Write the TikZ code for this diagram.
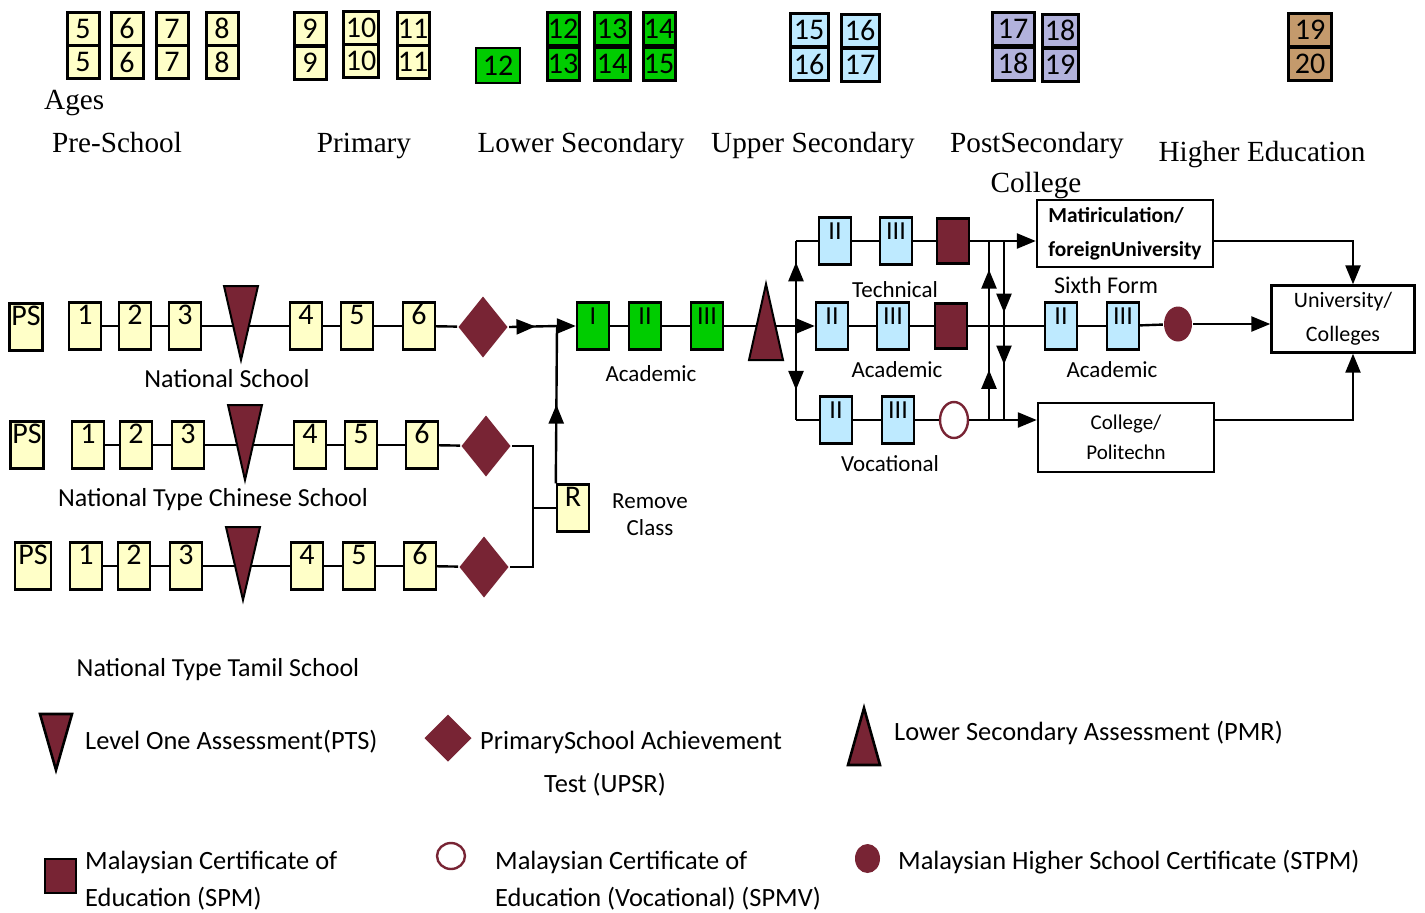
\documentclass[tikz,border=0pt]{standalone}
\usepackage{fontspec}
\setmainfont{Liberation Serif}
\setsansfont{Carlito}
\usetikzlibrary{arrows.meta,shapes.geometric,decorations.markings}

\definecolor{maroon}{RGB}{120,36,52}
\definecolor{ylw}{RGB}{255,255,200}
\definecolor{grn}{RGB}{0,204,0}
\definecolor{sky}{RGB}{190,234,255}
\definecolor{lilac}{RGB}{178,178,220}
\definecolor{brn}{RGB}{196,154,108}

\tikzset{
	bigtri/.tip={Triangle[length=9.5pt,width=7.5pt]},
	arr/.style={-bigtri},
	midarrow/.style={postaction={decorate},decoration={markings,mark=at position #1 with {\arrow{bigtri}}}},
	twoarrows/.style 2 args={postaction={decorate},decoration={markings,
		mark=at position #1 with {\arrow{bigtri}},mark=at position #2 with {\arrow{bigtri}}}},
	agebox/.style={draw, line width=1.5pt, minimum width=16pt, minimum height=16.5pt, inner sep=0pt,
		font=\sffamily\fontsize{15}{15}\selectfont},
	yearbox/.style={draw, line width=1.2pt, fill=ylw, minimum width=16pt, text height=10pt, text depth=11.5pt,
		inner sep=1pt, font=\sffamily\fontsize{15}{15}\selectfont},
	formbox/.style={yearbox, font=\sffamily\fontsize{13}{13}\selectfont},
	upsr/.style={diamond, fill=maroon, minimum width=25pt, minimum height=31pt, inner sep=0pt},
	spm/.style={draw=black, fill=maroon, line width=1.2pt, minimum width=16pt, minimum height=22.5pt, inner sep=0pt},
	spmv/.style={ellipse, draw=maroon, fill=white, line width=1.2pt, minimum width=14pt, minimum height=18pt, inner sep=0pt},
	stpm/.style={ellipse, fill=maroon, minimum width=14pt, minimum height=17.5pt, inner sep=0pt},
	assess/.style={fill=maroon, draw=black, line width=1pt},
	stage/.style={font=\fontsize{14.6}{16}\selectfont},
	lbl/.style={font=\sffamily\fontsize{11.5}{13.5}\selectfont},
	rowlbl/.style={font=\sffamily\fontsize{13}{15}\selectfont},
	lgtxt/.style={font=\sffamily\fontsize{13.2}{18.5}\selectfont, inner sep=0pt},
	endbox/.style={draw, line width=1.2pt, minimum width=88pt, minimum height=33.5pt}
}

\begin{document}
\begin{tikzpicture}[x=0.5pt,y=-0.5pt,line width=1.2pt]
	\useasboundingbox (0,0) rectangle (1425,912);
	% ages
	\node[agebox,fill=ylw] (a5t) at (83,28.5) {5};
	\node[agebox,fill=ylw] (a5b) at (83,62) {5};
	\node[agebox,fill=ylw] (a6t) at (127,28.5) {6};
	\node[agebox,fill=ylw] (a6b) at (127,62) {6};
	\node[agebox,fill=ylw] (a7t) at (172,28.5) {7};
	\node[agebox,fill=ylw] (a7b) at (172,62) {7};
	\node[agebox,fill=ylw] (a8t) at (222,28.5) {8};
	\node[agebox,fill=ylw] (a8b) at (222,62) {8};
	\node[agebox,fill=ylw] (a9t) at (310,29) {9};
	\node[agebox,fill=ylw] (a9b) at (310,63) {9};
	\node[agebox,fill=ylw,minimum width=17.5pt] (a10t) at (361,28) {10};
	\node[agebox,fill=ylw,minimum width=17.5pt] (a10b) at (361,61) {10};
	\node[agebox,fill=ylw] (a11t) at (413,28.5) {11};
	\node[agebox,fill=ylw] (a11b) at (413,62) {11};
	\node[agebox,fill=grn,line width=1.2pt,minimum width=22pt,minimum height=17.5pt] (a12s) at (498,65.5) {12};
	\node[agebox,fill=grn] (a12t) at (563,29) {12};
	\node[agebox,fill=grn] (a12b) at (563,63.5) {13};
	\node[agebox,fill=grn,minimum width=18pt] (a13t) at (612,29) {13};
	\node[agebox,fill=grn,minimum width=18pt] (a13b) at (612,63.5) {14};
	\node[agebox,fill=grn] (a14t) at (659,29) {14};
	\node[agebox,fill=grn] (a14b) at (659,64) {15};
	\node[agebox,fill=sky,minimum width=19pt] (a15t) at (809,29.5) {15};
	\node[agebox,fill=sky,minimum width=19pt] (a15b) at (809,64) {16};
	\node[agebox,fill=sky,minimum width=19pt] (a16t) at (860,30.5) {16};
	\node[agebox,fill=sky,minimum width=19pt] (a16b) at (860,65) {17};
	\node[agebox,fill=lilac,minimum width=21pt] (a17t) at (1013,29) {17};
	\node[agebox,fill=lilac,minimum width=21pt] (a17b) at (1013,63.5) {18};
	\node[agebox,fill=lilac,minimum width=18pt] (a18t) at (1060,30.5) {18};
	\node[agebox,fill=lilac,minimum width=18pt] (a18b) at (1060,65) {19};
	\node[agebox,fill=brn,minimum width=21.5pt] (a19t) at (1310,30) {19};
	\node[agebox,fill=brn,minimum width=21.5pt] (a19b) at (1310,64) {20};
	% stages
	\node[stage,anchor=west,inner sep=0pt] (hages) at (43,103) {Ages};
	\node[stage] (hpre) at (117,143) {Pre-School};
	\node[stage] (hpri) at (364,146) {Primary};
	\node[stage] (hlow) at (581,146) {Lower Secondary};
	\node[stage] (hupp) at (813,146) {Upper Secondary};
	\node[stage] (hpost) at (1037,146) {PostSecondary};
	\node[stage] (hcol) at (1036,186) {College};
	\node[stage] (hhigh) at (1262,155) {Higher Education};
	% national school
	\node[yearbox] (n0) at (26,327) {PS};
	\node[yearbox] (n1) at (85,326) {1};
	\node[yearbox] (n2) at (135,326) {2};
	\node[yearbox] (n3) at (185,326) {3};
	\coordinate (nt) at (241,326);
	\node[yearbox] (n4) at (306,326) {4};
	\node[yearbox] (n5) at (357,326) {5};
	\node[yearbox] (n6) at (419,326) {6};
	\node[upsr] (nd) at (483,327) {};
	\draw (n1) -- (n2);
	\draw (n2) -- (n3);
	\draw (n3) -- (n4);
	\draw (n4) -- (n5);
	\draw (n5) -- (n6);
	\draw (n6) -- (nd);
	\draw[assess] (nt) ++(-17,-40) -- ++(34,0) -- ++(-17,74) -- cycle;
	\node[rowlbl] (nl) at (227,379) {National School};
	% chinese school
	\node[yearbox] (c0) at (27,445) {PS};
	\node[yearbox] (c1) at (88,445) {1};
	\node[yearbox] (c2) at (136,445) {2};
	\node[yearbox] (c3) at (188,445) {3};
	\coordinate (ct) at (245,445);
	\node[yearbox] (c4) at (310,445) {4};
	\node[yearbox] (c5) at (361,445) {5};
	\node[yearbox] (c6) at (422,445) {6};
	\node[upsr] (cd) at (486,446) {};
	\draw (c1) -- (c2);
	\draw (c2) -- (c3);
	\draw (c3) -- (c4);
	\draw (c4) -- (c5);
	\draw (c5) -- (c6);
	\draw (c6) -- (cd);
	\draw[assess] (ct) ++(-17,-40) -- ++(34,0) -- ++(-17,75) -- cycle;
	\node[rowlbl] (cl) at (213,500) {National Type Chinese School};
	% tamil school
	\node[yearbox,minimum width=18pt] (t0) at (33,566) {PS};
	\node[yearbox] (t1) at (86,566) {1};
	\node[yearbox] (t2) at (134,566) {2};
	\node[yearbox] (t3) at (186,566) {3};
	\coordinate (tt) at (243,566);
	\node[yearbox] (t4) at (307,566) {4};
	\node[yearbox] (t5) at (359,566) {5};
	\node[yearbox] (t6) at (420,566) {6};
	\node[upsr] (td) at (484,567) {};
	\draw (t1) -- (t2);
	\draw (t2) -- (t3);
	\draw (t3) -- (t4);
	\draw (t4) -- (t5);
	\draw (t5) -- (t6);
	\draw (t6) -- (td);
	\draw[assess] (tt) ++(-17,-39) -- ++(34,0) -- ++(-17,73) -- cycle;
	\node[rowlbl] (tl) at (218,670) {National Type Tamil School};
	% remove class
	\node[yearbox] (rc) at (573,508) {R};
	\node[lbl,align=center] (rcl) at (650,515) {Remove\\Class};
	\coordinate (jr) at (533,508);
	\coordinate (j1) at (557,326);
	\draw (cd.east) -| (jr);
	\draw (td.east) -| (jr);
	\draw (jr) -- (rc);
	\draw[midarrow=0.55] (nd.east) -- (j1);
	\draw[midarrow=0.5] (rc.north west) -- (j1);
	% lower secondary
	\node[formbox,fill=grn] (g1) at (593,326) {I};
	\node[formbox,fill=grn] (g2) at (645,326) {II};
	\node[formbox,fill=grn] (g3) at (707,326) {III};
	\node[lbl] (gl) at (651,374) {Academic};
	\coordinate (gp) at (766,326);
	\coordinate (bt) at (796,241);
	\coordinate (bm) at (796,326);
	\coordinate (bb) at (796,420);
	\draw[arr] (j1) -- (g1);
	\draw (g1) -- (g2);
	\draw (g2) -- (g3);
	\draw (g3) -- (bm);
	\draw[assess] (gp) ++(-17,34) -- ++(34,0) -- ++(-17,-76) -- cycle;
	\draw[midarrow=0.75] (bm) -- (bt);
	\draw[midarrow=0.68] (bm) -- (bb);
	% upper secondary
	\node[formbox,fill=sky] (ut1) at (835,241) {II};
	\node[formbox,fill=sky] (ut2) at (896,241) {III};
	\node[spm] (ut3) at (953,241) {};
	\node[formbox,fill=sky] (ua1) at (832,326) {II};
	\node[formbox,fill=sky] (ua2) at (893,326) {III};
	\node[spm] (ua3) at (951,326) {};
	\node[formbox,fill=sky] (uv1) at (836,420) {II};
	\node[formbox,fill=sky] (uv2) at (898,420) {III};
	\node[spmv] (uv3) at (954,420) {};
	\node[lbl] (utl) at (895,290) {Technical};
	\node[lbl] (ual) at (897,370) {Academic};
	\node[lbl] (uvl) at (890,464) {Vocational};
	\draw (bt) -- (ut1);
	\draw (ut1) -- (ut2);
	\draw (ut2) -- (ut3);
	\draw[arr] (bm) -- (ua1);
	\draw (ua1) -- (ua2);
	\draw (ua2) -- (ua3);
	\draw (bb) -- (uv1);
	\draw (uv1) -- (uv2);
	\draw (uv2) -- (uv3);
	% post secondary
	\node[endbox,align=left,font=\sffamily\bfseries\fontsize{10.7}{17}\selectfont] (mat) at (1125,233.5) {Matiriculation/\\foreignUniversity};
	\node[lbl,font=\sffamily\fontsize{12}{14}\selectfont] (sfl) at (1106,285) {Sixth Form};
	\node[formbox,fill=sky] (s1) at (1061,326) {II};
	\node[formbox,fill=sky] (s2) at (1123,326) {III};
	\node[stpm] (s3) at (1178,324) {};
	\node[lbl] (sal) at (1112,370) {Academic};
	\node[endbox,minimum height=34.5pt,align=center,font=\sffamily\fontsize{10.5}{15}\selectfont] (col) at (1126,437.5) {College/\\Politechn};
	\node[endbox,minimum width=71.5pt,align=center,font=\sffamily\fontsize{11}{17}\selectfont] (uni) at (1343,319) {University/\\Colleges};
	\coordinate (lu1) at (989,420);
	\coordinate (lu2) at (989,241);
	\coordinate (ld1) at (1004,241);
	\coordinate (ld2) at (1004,420);
	\draw[arr] (ut3) -- (mat.west |- ut3);
	\draw[arr] (uv3) -- (col.west |- uv3);
	\draw[twoarrows={0.28}{0.84}] (lu1) -- (lu2);
	\draw[twoarrows={0.4}{0.69}] (ld1) -- (ld2);
	\draw (ua3) -- (s1);
	\draw (s1) -- (s2);
	\draw (s2) -- (s3);
	\draw[arr] (s3) -- (uni.west |- s3);
	\draw[arr] (mat.east |- ut3) -| ([xshift=5pt]uni.north);
	\draw[arr] (col.east |- uv3) -| ([xshift=5pt]uni.south);
	% legend
	\coordinate (k1) at (56,742);
	\draw[assess,line width=1.3pt] (k1) ++(-16,-28) -- ++(32,0) -- ++(-16,56) -- cycle;
	\node[lgtxt,anchor=west] (k1t) at (84,742) {Level One Assessment(PTS)};
	\node[upsr,minimum width=24pt,minimum height=24pt] (k2) at (448,738) {};
	\node[lgtxt,anchor=west] (k2t) at (479,742) {PrimarySchool Achievement};
	\node[lgtxt] (k2u) at (605,785) {Test (UPSR)};
	\coordinate (k3) at (864,736);
	\draw[assess,line width=1.3pt] (k3) ++(-16,29) -- ++(32,0) -- ++(-16,-57) -- cycle;
	\node[lgtxt,anchor=west] (k3t) at (893,733) {Lower Secondary Assessment (PMR)};
	\node[spm,minimum width=15.5pt,minimum height=17pt] (k4) at (60.5,876) {};
	\node[lgtxt,anchor=west,align=left] (k4t) at (84,881) {Malaysian Certificate of\\Education (SPM)};
	\node[spmv,minimum width=14pt,minimum height=13pt] (k5) at (451,856) {};
	\node[lgtxt,anchor=west,align=left] (k5t) at (494,881) {Malaysian Certificate of\\Education (Vocational) (SPMV)};
	\node[stpm,minimum width=12.5pt,minimum height=14.5pt] (k6) at (867.5,858.5) {};
	\node[lgtxt,anchor=west] (k6t) at (897,862) {Malaysian Higher School Certificate (STPM)};
\end{tikzpicture}
\end{document}
